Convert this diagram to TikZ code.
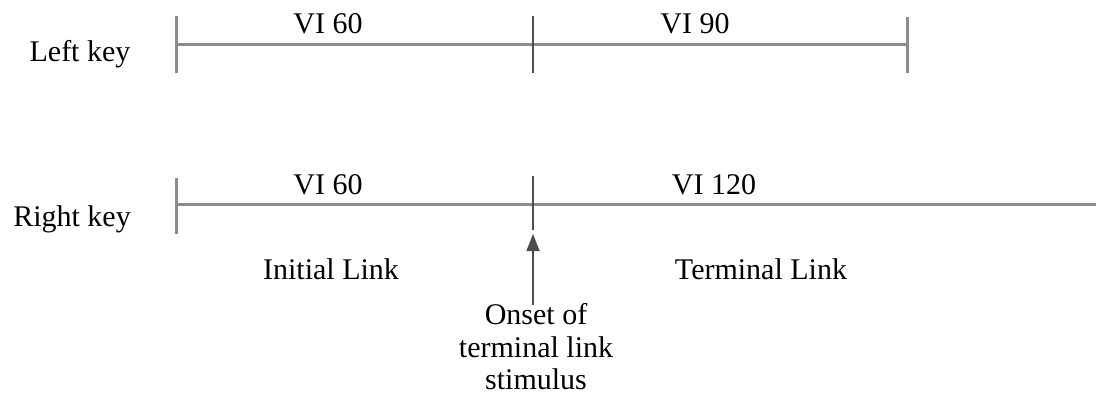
\documentclass[tikz,border=0pt]{standalone}
\usepackage{fontspec}
\setmainfont{Liberation Serif}
\usetikzlibrary{arrows.meta}
\begin{document}
\begin{tikzpicture}[x=1pt,y=-1pt,
  lab/.style={font=\fontsize{30}{34}\selectfont, inner sep=0pt, anchor=base},
  tl/.style={draw=black!45, line width=3pt},
  tk/.style={draw=black!70, line width=1.6pt},
  ]
\useasboundingbox (0,0) rectangle (1096,402);
% coordinates
\coordinate (L0) at (176,44);
\coordinate (L1) at (533,44);
\coordinate (L2) at (907,44);
\coordinate (R0) at (176,204);
\coordinate (R1) at (533,204);
\coordinate (R2) at (1096,204);
% left key
\draw[tl] (L0) -- (L2);
\draw[tl] (176,16) -- (176,73);
\draw[tk] (533,16) -- (533,73);
\draw[tl] (907,17) -- (907,73);
% right key
\draw[tl] (R0) -- (R2);
\draw[tl] (176,178) -- (176,234);
\draw[tk] (533,176) -- (533,230);
% labels
\node[lab] (lk) at (80,61) {Left key};
\node[lab] (rk) at (72,226) {Right key};
\node[lab] (a) at (328,33) {VI 60};
\node[lab] (b) at (695,33) {VI 90};
\node[lab] (c) at (328,194) {VI 60};
\node[lab] (d) at (714,194) {VI 120};
\node[lab] (il) at (331,279) {Initial Link};
\node[lab] (tlk) at (761,279) {Terminal Link};
\node[lab] (o1) at (536,324) {Onset of};
\node[lab] (o2) at (536,357) {terminal link};
\node[lab] (o3) at (536,389) {stimulus};
\coordinate (arrS) at (533,305);
\coordinate (arrE) at (533,234);
\draw[tk, -{Triangle[length=17pt,width=13pt]}] (arrS) -- (arrE);
\end{tikzpicture}
\end{document}
